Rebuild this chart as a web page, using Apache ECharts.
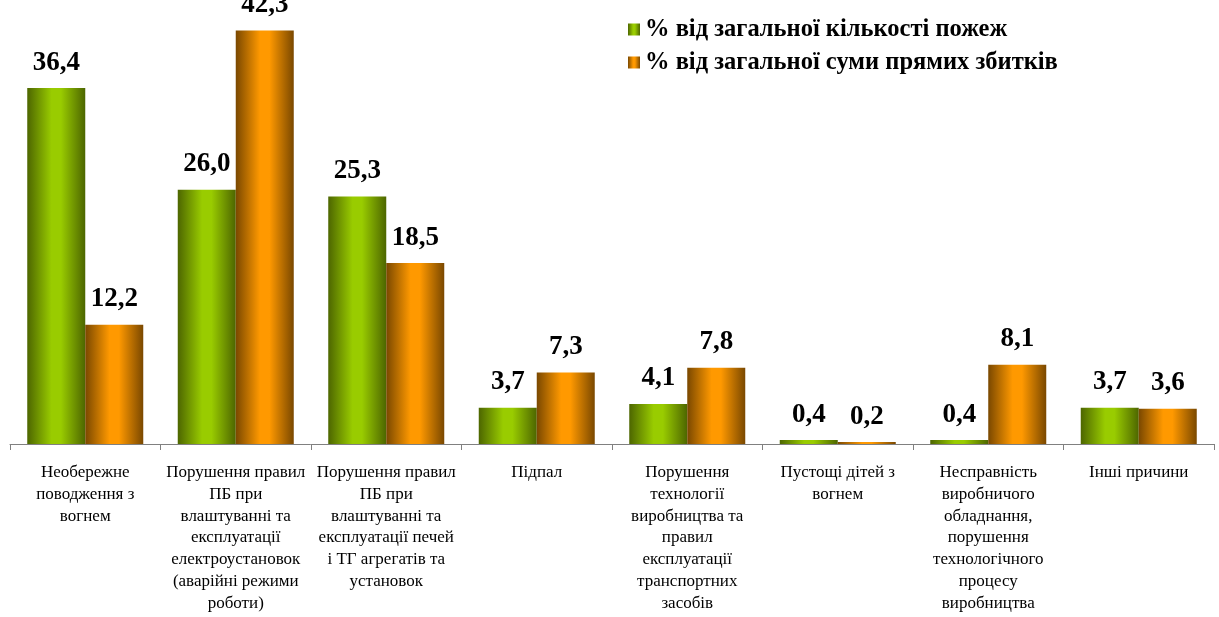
<!DOCTYPE html>
<html>
<head>
<meta charset="utf-8">
<script src="https://cdn.jsdelivr.net/npm/echarts@6/dist/echarts.min.js"></script>
<style>
  html, body { margin: 0; padding: 0; background: #fff; }
  #chart { width: 1219px; height: 617px; }
</style>
</head>
<body>
<div id="chart"></div>
<script>
const categories = [
  'Необережне\nповодження з\nвогнем',
  'Порушення правил\nПБ при\nвлаштуванні та\nексплуатації\nелектроустановок\n(аварійні режими\nроботи)',
  'Порушення правил\nПБ при\nвлаштуванні та\nексплуатації печей\nі ТГ агрегатів та\nустановок',
  'Підпал',
  'Порушення\nтехнології\nвиробництва та\nправил\nексплуатації\nтранспортних\nзасобів',
  'Пустощі дітей з\nвогнем',
  'Несправність\nвиробничого\nобладнання,\nпорушення\nтехнологічного\nпроцесу\nвиробництва',
  'Інші причини'
]
const seriesNames = ['% від загальної кількості пожеж', '% від загальної суми прямих збитків']
const firesShare = [36.4, 26.0, 25.3, 3.7, 4.1, 0.4, 0.4, 3.7]
const lossShare = [12.2, 42.3, 18.5, 7.3, 7.8, 0.2, 8.1, 3.6]

const serif = '"Liberation Serif", "Times New Roman", serif'

function hGrad (edge, mid) {
  return new echarts.graphic.LinearGradient(0, 0, 1, 0, [
    { offset: 0, color: edge },
    { offset: 0.42, color: mid },
    { offset: 0.58, color: mid },
    { offset: 1, color: edge }
  ])
}

const label = {
  show: true,
  position: 'top',
  distance: 12,
  fontFamily: serif,
  fontWeight: 'bold',
  fontSize: 27,
  color: '#000',
  formatter: p => p.value.toFixed(1).replace('.', ',')
}

const chart = echarts.init(document.getElementById('chart'))
chart.setOption({
  animation: false,
  legend: {
    orient: 'vertical',
    left: 623,
    top: 12,
    itemWidth: 12,
    itemHeight: 12,
    itemGap: 8,
    icon: 'rect',
    textStyle: { fontFamily: serif, fontWeight: 'bold', fontSize: 24.5, color: '#000' },
    data: seriesNames
  },
  grid: { left: 10, right: 5, top: 4, bottom: 173, containLabel: false },
  xAxis: {
    type: 'category',
    data: categories,
    axisLine: { lineStyle: { color: '#808080', width: 1 } },
    axisTick: { show: true, length: 6, lineStyle: { color: '#808080' } },
    axisLabel: {
      interval: 0,
      margin: 18,
      fontFamily: serif,
      fontSize: 17,
      lineHeight: 21.7,
      color: '#000',
      align: 'center'
    }
  },
  yAxis: {
    type: 'value',
    min: 0,
    max: 45,
    show: false,
    splitLine: { show: false }
  },
  series: [
    {
      name: seriesNames[0],
      type: 'bar',
      barWidth: 58,
      barGap: '0%',
      data: firesShare,
      itemStyle: { color: hGrad('#4d6600', '#99cc00') },
      label
    },
    {
      name: seriesNames[1],
      type: 'bar',
      barWidth: 58,
      data: lossShare,
      itemStyle: { color: hGrad('#7a4800', '#ff9900') },
      label
    }
  ]
})
</script>
</body>
</html>
